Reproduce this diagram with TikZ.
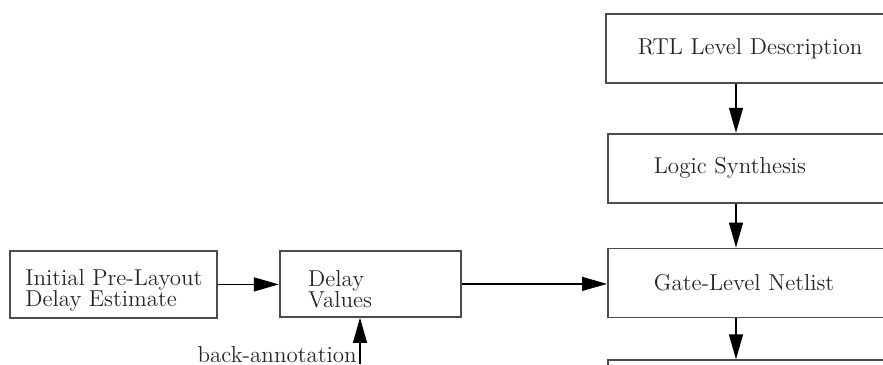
\documentclass[tikz,border=0pt]{standalone}
\usetikzlibrary{arrows.meta,positioning}

\begin{document}
\begin{tikzpicture}[
  x=1pt, y=1pt,
  boxtext/.style={font=\fontsize{11.5}{10.5}\selectfont, text=black!85, align=left},
  flowbox/.style={rectangle, draw=black!70, line width=0.9pt, minimum height=34.5pt, boxtext},
  stagebox/.style={flowbox, minimum width=160pt},
  flowline/.style={->, line width=0.6pt},
  >={Triangle[length=12.5pt, width=7pt]}
]

% Frame
\useasboundingbox (0,0) rectangle (441.5,-182);
\clip (0,0) rectangle (441.5,-182);

% Synthesis column
\node[stagebox, anchor=north west, text width=128pt] (rtl) at (302.5,-6.5) {RTL Level Description};
\node[stagebox, text width=114pt, below=24.5pt of rtl.south west, anchor=north west, xshift=1pt] (logic) {Logic Synthesis};
\node[stagebox, text width=114pt, below=22pt of logic.south west, anchor=north west] (gln) {Gate-Level Netlist};
\node[stagebox, below=20.5pt of gln.south west, anchor=north west] (place) {};

% Delay path
\node[flowbox, anchor=north west, minimum width=103.5pt, minimum height=33.5pt] (est) at (4.5,-125) {};
\node[flowbox, minimum width=90.5pt, minimum height=33pt, right=30.5pt of est.north east, anchor=north west] (dv) {};
\node[boxtext, inner sep=0pt, below right=9.5pt and 8pt of est.north west] (esttext) {Initial Pre-Layout\\Delay Estimate};
\node[boxtext, inner sep=0pt, below right=10pt and 14.5pt of dv.north west] (dvtext) {Delay\\Values};

\coordinate (spine) at (368,0);
\coordinate (bafoot) at (180,-182);

% Arrows
\draw[flowline] (rtl.south -| spine) -- (logic.north -| spine);
\draw[flowline] (logic.south -| spine) -- (gln.north -| spine);
\draw[flowline] (gln.south -| spine) -- (place.north -| spine);
\draw[flowline] (est.east) -- (est.east -| dv.west);
\draw[flowline] (dv.east) -- (dv.east -| gln.west);
\draw[flowline] (bafoot) -- (bafoot |- dv.south);

% Annotation
\node[boxtext, anchor=base east, inner sep=0pt, xshift=-1.5pt, yshift=1pt] (balabel) at (bafoot) {back-annotation};

\end{tikzpicture}
\end{document}
